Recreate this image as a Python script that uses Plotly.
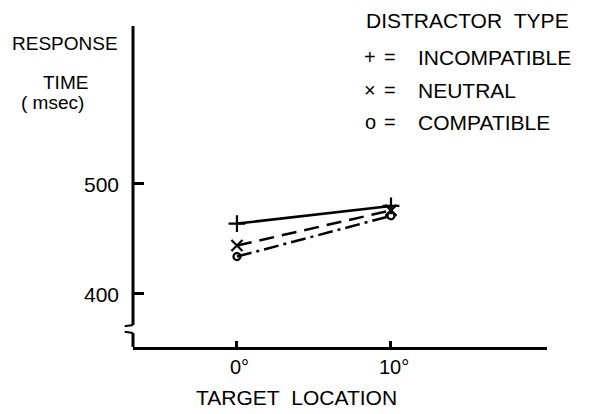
import plotly.graph_objects as go

# ---- data ----
x_vals = [0, 10]
x_tick_labels = ["0°", "10°"]
series_names = ["INCOMPATIBLE", "NEUTRAL", "COMPATIBLE"]
series_symbols_text = ["+", "×", "o"]
incompatible = [464, 480]
neutral = [444, 476]
compatible = [434, 471]
y_ticks = [400, 500]

# page body has an 8px margin; compensate so the figure lands where the reference is
OFF = 8
W, H = 590, 414
AX_L, AX_R, AX_T, AX_B = 133, 547, 26, 347   # target pixel positions of plot area
L = AX_L - OFF
T = AX_T - OFF
R = W - (AX_R - OFF)
B = H - (AX_B - OFF)
PW, PH = W - L - R, H - T - B
YR = [351.8, 643.6]
XR = [-6.75, 20.13]


def px(x):
    return (x - AX_L) / PW


def py(y):
    return (AX_B - y) / PH


FONT = "Liberation Sans"
fig = go.Figure()

styles = [
    dict(dash="solid", symbol="cross-thin-open", size=12),
    dict(dash="15px,8px", symbol="x-thin-open", size=11),
    dict(dash="15px,5px,3px,5px", symbol="circle-open", size=7),
]
for name, vals, st in zip(series_names, [incompatible, neutral, compatible], styles):
    fig.add_trace(go.Scatter(
        x=x_vals, y=vals, name=name, mode="lines+markers",
        line=dict(color="black", width=2.5, dash=st["dash"]),
        marker=dict(symbol=st["symbol"], size=st["size"], color="black",
                    line=dict(color="black", width=2.2)),
        showlegend=False,
    ))

# y axis drawn as shapes (with break)
brk_top = 371.8
brk_bot = 364.5
shapes = [
    dict(type="line", xref="paper", yref="y", x0=0, x1=0, y0=brk_top, y1=YR[1],
         line=dict(color="black", width=3)),
    dict(type="line", xref="paper", yref="y", x0=0, x1=0, y0=YR[0], y1=brk_bot,
         line=dict(color="black", width=3)),
    dict(type="line", xref="paper", yref="y", x0=0, x1=-0.02, y0=brk_top, y1=brk_top - 1.2,
         line=dict(color="black", width=2)),
    dict(type="line", xref="paper", yref="y", x0=0, x1=-0.02, y0=brk_bot, y1=brk_bot + 1.2,
         line=dict(color="black", width=2)),
]

annotations = []


def txt(s, x, y, size=20, xanchor="center"):
    annotations.append(dict(text=s, x=px(x), y=py(y), xref="paper", yref="paper",
                            showarrow=False, xanchor=xanchor, yanchor="middle",
                            font=dict(family=FONT, size=size, color="black")))


txt("RESPONSE", 65, 43, size=19)
txt("TIME", 65, 82, size=19)
txt("(\u00a0msec)", 52, 102, size=19)
txt("DISTRACTOR\u00a0\u00a0TYPE", 364, 20, size=21, xanchor="left")
leg_y = [57, 90, 122]
for sym, name, yy in zip(series_symbols_text, series_names, leg_y):
    txt(sym, 370, yy, size=20)
    txt("=", 390, yy, size=20)
    txt(name, 416, yy, size=21, xanchor="left")
txt("TARGET\u00a0\u00a0LOCATION", 296, 398, size=21)

# tick labels placed on the axes' scales
for v in y_ticks:
    annotations.append(dict(text=str(v), x=px(121), y=v, xref="paper", yref="y",
                            showarrow=False, xanchor="right", yanchor="middle", yshift=-1,
                            font=dict(family=FONT, size=21, color="black")))
for v, lab in zip(x_vals, x_tick_labels):
    annotations.append(dict(text=lab, x=v, y=py(367), xref="x", yref="paper",
                            showarrow=False, xanchor="center", yanchor="middle", xshift=3,
                            font=dict(family=FONT, size=20, color="black")))

fig.update_layout(
    width=W, height=H,
    margin=dict(l=L, r=R, t=T, b=B),
    paper_bgcolor="white", plot_bgcolor="white",
    shapes=shapes, annotations=annotations,
    xaxis=dict(range=XR, tickvals=x_vals, showticklabels=False,
               showgrid=False, zeroline=False, showline=True,
               linecolor="black", linewidth=3,
               ticks="inside", ticklen=6, tickwidth=3, tickcolor="black"),
    yaxis=dict(range=YR, tickvals=y_ticks, showticklabels=False,
               showgrid=False, zeroline=False, showline=False,
               ticks="inside", ticklen=11, tickwidth=3, tickcolor="black"),
)

fig.write_html("out.html")
